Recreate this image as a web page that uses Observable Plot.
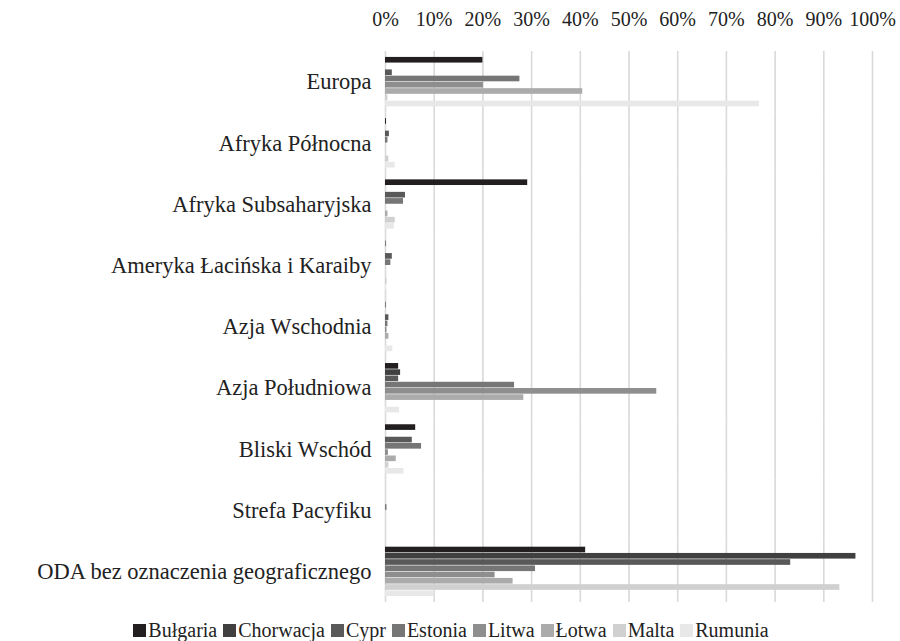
<!DOCTYPE html>
<html><head><meta charset="utf-8">
<script src="https://cdn.jsdelivr.net/npm/d3@7"></script>
<script src="https://cdn.jsdelivr.net/npm/@observablehq/plot@0.6"></script>
<style>
html,body{margin:0;padding:0;background:#fff;overflow:hidden;}
#chart svg{display:block;}
</style></head><body>
<div id="chart"></div>
<div id="legend" style="display:flex;justify-content:center;align-items:center;height:29px;margin-top:4px;gap:6px;padding-left:2px;"></div>
<script>
const FONT = "'Liberation Serif','Times New Roman',serif";
const categories = ["Europa","Afryka Północna","Afryka Subsaharyjska","Ameryka Łacińska i Karaiby","Azja Wschodnia","Azja Południowa","Bliski Wschód","Strefa Pacyfiku","ODA bez oznaczenia geograficznego"];
const series = ["Bułgaria","Chorwacja","Cypr","Estonia","Litwa","Łotwa","Malta","Rumunia"];
const colors = ["#231f20","#404040","#595959","#767676","#8e8e8e","#ababab","#d0d0d0","#e8e8e8"];
const xTicks = [0,10,20,30,40,50,60,70,80,90,100];
// values per series, in category order (%)
const bulgaria  = [20.0, 0.2, 29.2, 0.1, 0.1, 2.7, 6.2, 0.0, 41.1];
const chorwacja = [0.0, 0.0, 0.0, 0.0, 0.0, 3.1, 0.0, 0.0, 96.6];
const cypr      = [1.4, 0.8, 4.1, 1.4, 0.7, 2.7, 5.5, 0.0, 83.2];
const estonia   = [27.6, 0.5, 3.7, 1.1, 0.5, 26.5, 7.4, 0.3, 30.8];
const litwa     = [20.1, 0.0, 0.0, 0.0, 0.3, 55.7, 0.6, 0.0, 22.5];
const lotwa     = [40.5, 0.0, 0.5, 0.0, 0.7, 28.4, 2.2, 0.0, 26.2];
const malta     = [0.5, 0.7, 2.0, 0.3, 0.0, 0.0, 0.7, 0.0, 93.3];
const rumunia   = [76.8, 2.0, 1.8, 0.2, 1.5, 2.9, 3.8, 0.0, 10.1];
const values = [bulgaria, chorwacja, cypr, estonia, litwa, lotwa, malta, rumunia];

const data = categories.flatMap((c, i) => series.map((s, j) => ({category: c, series: s, value: values[j][i]})));

const plot = Plot.plot({
  width: 900, height: 612,
  marginTop: 51, marginBottom: 10, marginLeft: 385, marginRight: 28,
  style: {fontFamily: FONT, fontSize: "20px", color: "#222", background: "white", overflow: "visible"},
  x: {domain: [0, 100], axis: "top", ticks: xTicks, tickFormat: d => d + "%", tickSize: 0, tickPadding: 26, label: null},
  fy: {domain: categories, padding: 0, round: false, label: null, axis: "left", tickSize: 0, tickPadding: 14},
  y: {domain: series, paddingInner: 0, paddingOuter: 0.9, round: false, axis: null},
  color: {domain: series, range: colors},
  facet: {data, y: "category"},
  marks: [
    Plot.ruleX(xTicks, {stroke: "#d9d9d9", strokeWidth: 1.6}),
    Plot.barX(data, {x: "value", y: "series", fill: "series", insetTop: 0.3, insetBottom: 0.3})
  ]
});
document.getElementById("chart").appendChild(plot);
d3.select(plot).selectAll("text").each(function() {
  this.style.fontFamily = FONT;
  this.style.fill = "#222";
  const g = this.closest("[aria-label]");
  const lab = g ? g.getAttribute("aria-label") : "";
  this.style.fontSize = lab && lab.startsWith("fy-axis") ? "22.5px" : "20px";
});

const leg = document.getElementById("legend");
series.forEach((s, i) => {
  const it = document.createElement("span");
  it.style.cssText = "display:flex;align-items:center;gap:2px;";
  const sw = document.createElement("span");
  sw.style.cssText = "width:13px;height:13px;display:inline-block;background:" + colors[i] + ";";
  const t = document.createElement("span");
  t.style.cssText = "font-family:" + FONT + ";font-size:20px;color:#222;";
  t.textContent = s;
  it.appendChild(sw); it.appendChild(t); leg.appendChild(it);
});
</script>
</body></html>
